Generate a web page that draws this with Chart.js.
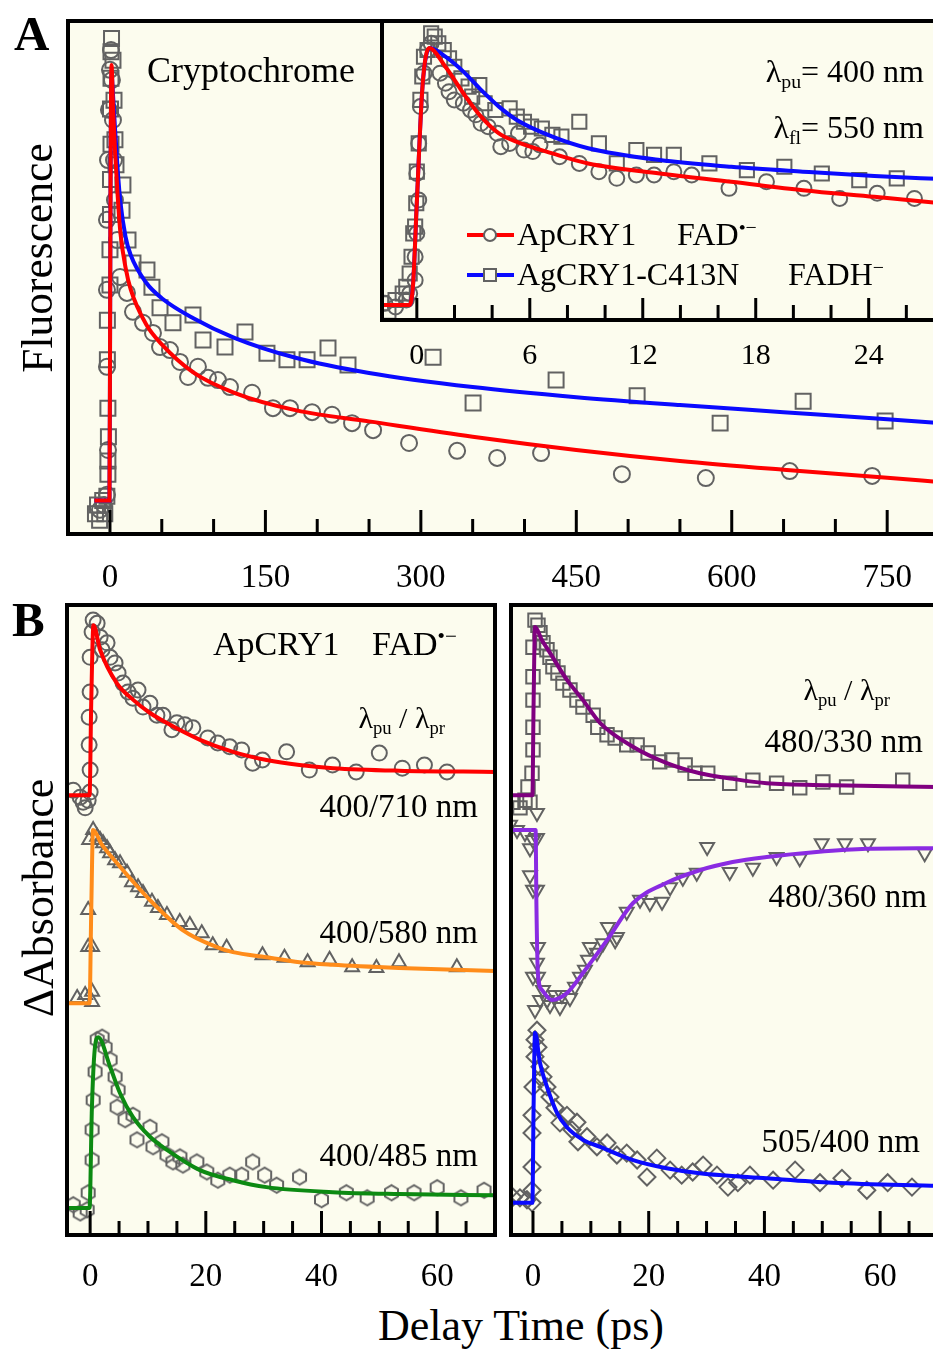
<!DOCTYPE html>
<html><head><meta charset="utf-8">
<script src="https://cdn.jsdelivr.net/npm/chart.js@4.4.0/dist/chart.umd.min.js"></script>
<style>
html,body{margin:0;padding:0;background:#fff;}
body{width:933px;height:1349px;overflow:hidden;position:relative;font-family:"Liberation Serif","Times New Roman",serif;color:#000;}
canvas{position:absolute;}
.t{position:absolute;white-space:nowrap;line-height:1;}
.t sub{font-size:0.62em;vertical-align:-0.32em;line-height:0;}
.t sup{font-size:0.62em;vertical-align:0.55em;line-height:0;}
.sw{position:absolute;}
</style></head><body>
<canvas id="cA" width="960" height="610" style="left:0;top:0"></canvas>
<canvas id="cI" width="590" height="380" style="left:370px;top:0"></canvas>
<canvas id="cBL" width="520" height="720" style="left:0;top:580px"></canvas>
<canvas id="cBR" width="460" height="720" style="left:490px;top:580px"></canvas>
<script>
// ---------------- DATA ----------------
// Panel A (main): delay time (ps) vs normalized fluorescence
const A_TICKS = [0,150,300,450,600,750];
const A_RED_FIT = [[-15,0.01],[-0.5,0.01],[0,0.3],[0.5,0.7],[1.5,1.0],[3,0.9],[5,0.8],[7.5,0.7],[10,0.62],[15,0.54],[20,0.49],[35,0.41],[50,0.365],[80,0.302],[120,0.255],[180,0.215],[250,0.19],[350,0.155],[450,0.125],[550,0.1],[650,0.08],[750,0.062],[800,0.052]];
const A_BLUE_FIT = [[-15,0.01],[-0.5,0.01],[0,0.3],[0.5,0.7],[1.5,0.98],[3,0.93],[5,0.85],[7.5,0.76],[10,0.69],[15,0.61],[20,0.568],[35,0.505],[50,0.47],[80,0.425],[120,0.38],[180,0.334],[250,0.3],[350,0.268],[450,0.245],[550,0.227],[650,0.211],[750,0.195],[800,0.186]];
const A_CIRCLES = [[-9.7,-0.011],[-5.8,0],[-2.9,0.023],[-1.9,0.125],[-2.9,0.314],[-2.9,0.489],[-2.9,0.648],[-1.9,0.784],[-1,0.898],[0,0.989],[1,1.034],[1.9,0.966],[2.9,0.875],[3.9,0.784],[4.8,0.693],[6.8,0.602],[9.7,0.518],[16.4,0.482],[22.2,0.439],[31.9,0.414],[41.5,0.391],[48.3,0.359],[57.9,0.352],[67.6,0.325],[75.3,0.291],[84.9,0.314],[94.6,0.289],[104.2,0.284],[115.8,0.268],[137.1,0.255],[157.3,0.22],[173.7,0.22],[195,0.211],[214.3,0.205],[233.6,0.186],[253.9,0.17],[288.6,0.141],[335,0.123],[373.6,0.107],[416,0.118],[494,0.07],[575,0.061],[656,0.077],[735.5,0.066]];
const A_SQUARES = [[-14,-0.02],[-12,0.0],[-10,-0.035],[-7,0.01],[-5,-0.02],[-3,0.02],[-2,0.07],[-2,0.1],[-1.5,0.155],[-2,0.22],[-2.5,0.33],[-2.5,0.42],[0,0.5],[0,0.58],[0.5,0.66],[0.5,0.74],[1,0.82],[0.5,0.9],[1,0.97],[1,1.03],[1.5,1.06],[2.9,1.011],[3.9,0.92],[4.8,0.83],[5.8,0.773],[12.5,0.727],[11.6,0.67],[17.4,0.602],[22.2,0.55],[35.7,0.534],[40.5,0.495],[48.3,0.448],[60.8,0.414],[80.1,0.432],[89.8,0.375],[111,0.359],[130.3,0.393],[151.5,0.345],[170.8,0.33],[190.2,0.33],[210.4,0.357],[229.7,0.318],[311.8,0.336],[350.4,0.232],[430.5,0.284],[508.7,0.248],[588.8,0.186],[668.9,0.236],[748,0.191]];

// Panel A (inset)
const I_TICKS = [0,6,12,18,24];
const I_RED_FIT = [[-1.85,0],[-0.4,0],[-0.2,0.08],[0,0.4],[0.3,0.85],[0.65,1.0],[1.52,0.927],[2.47,0.824],[3.41,0.733],[4.36,0.668],[5.31,0.635],[7.2,0.59],[9.1,0.551],[12.9,0.512],[16.7,0.48],[20.5,0.447],[24.3,0.421],[28,0.395]];
const I_BLUE_FIT = [[-1.85,0],[-0.4,0],[-0.2,0.08],[0,0.4],[0.3,0.85],[0.7,1.0],[1.52,0.966],[2.47,0.908],[3.41,0.837],[4.36,0.772],[5.31,0.72],[7.2,0.655],[9.1,0.61],[12.9,0.564],[16.7,0.538],[20.5,0.519],[24.3,0.502],[28,0.49]];
const I_CIRCLES = [[-1.7,0.007],[-1.13,-0.007],[-0.56,0.02],[-0.38,0.045],[-0.09,0.097],[-0.09,0.188],[0,0.279],[0.1,0.409],[0,0.512],[0.1,0.629],[0.19,0.772],[0.38,0.902],[0.57,0.992],[0.76,1.018],[1.24,0.902],[1.52,0.863],[1.71,0.83],[1.99,0.798],[2.47,0.785],[2.85,0.759],[3.13,0.74],[3.41,0.707],[3.79,0.694],[4.27,0.668],[4.46,0.616],[4.93,0.629],[5.4,0.668],[5.69,0.603],[6.16,0.597],[6.54,0.623],[7.58,0.577],[8.63,0.551],[9.67,0.519],[10.62,0.493],[11.66,0.506],[12.6,0.506],[13.65,0.519],[14.6,0.506],[16.58,0.454],[18.57,0.48],[20.56,0.454],[22.46,0.415],[24.45,0.435],[26.43,0.415]];
const I_SQUARES = [[-1.89,0.007],[-1.51,-0.026],[-1.13,0.02],[-0.75,0.045],[-0.56,0.071],[-0.38,0.123],[-0.28,0.188],[-0.19,0.279],[-0.09,0.305],[-0.03,0.396],[0,0.519],[0.1,0.629],[0.19,0.798],[0.29,0.889],[0.38,0.966],[0.57,0.992],[0.76,1.057],[0.95,1.044],[1.14,1.018],[1.43,0.992],[1.71,0.96],[1.99,0.927],[2.37,0.882],[2.75,0.85],[3.32,0.856],[2.94,0.811],[3.6,0.785],[4.17,0.759],[4.93,0.765],[5.31,0.733],[5.69,0.713],[6.07,0.694],[6.64,0.687],[7.2,0.662],[7.68,0.655],[8.63,0.713],[9.67,0.629],[10.62,0.551],[11.66,0.603],[12.6,0.584],[13.65,0.584],[15.54,0.551],[17.53,0.525],[19.52,0.538],[21.51,0.512],[23.5,0.486],[25.49,0.493]];

// Panel B (left): ApCRY1 FAD•−, ΔA traces (offset vertically)
const B_TICKS = [0,20,40,60];
const BL_RED_FIT = [[-4,69.8],[-0.1,69.8],[0.2,85],[0.57,96.8],[1.72,92.9],[4.6,87.6],[7.5,84.9],[10.3,82.9],[13.2,81.3],[19,78.6],[24.7,76.7],[30.5,75.4],[36.2,74.6],[42,74.1],[53.4,73.7],[70,73.5]];
const BL_CIRCLES = [[-2.93,70.6],[-1.72,69.5],[-0.86,67.8],[-1.21,68.7],[0,70.3],[-0.34,69.0],[0,73.8],[-0.17,77.8],[-0.17,82.2],[0,86.2],[0,91.7],[0.34,95.7],[0.52,97.6],[1.21,97.1],[1.72,94.9],[2.07,92.9],[2.93,94.0],[3.45,91.7],[4.31,90.8],[4.83,89.2],[5.69,87.6],[6.55,86.2],[7.41,85.2],[8.28,86.5],[9.14,83.8],[10.34,84.4],[11.55,82.5],[12.59,82.5],[14.14,80.2],[15,81.3],[16.38,81.0],[17.76,80.5],[20.34,78.9],[22.07,78.1],[24.14,77.5],[26.2,77.0],[28.1,74.9],[29.8,75.4],[33.97,76.7],[37.9,73.8],[41.9,74.6],[46,73.5],[50,76.5],[53.97,74.1],[57.8,74.6],[61.7,73.5]];
const BL_ORANGE_FIT = [[-4,36.8],[-0.1,36.8],[0.2,52],[0.5,64.3],[2,62.0],[4.66,59.0],[10.3,53.2],[16,48.4],[21.9,45.7],[24.7,44.9],[30.5,44.1],[36.2,43.3],[41.9,42.9],[53.4,42.4],[70,41.9]];
const BL_TRIANGLES = [[0.52,64.3],[1.21,63.2],[1.72,62.7],[2.24,62.2],[2.93,61.4],[3.45,60.6],[4.31,59.5],[5.17,59.0],[6.38,57.5],[7.24,56.0],[8.28,55.2],[9.14,54.3],[10.69,52.9],[11.72,51.9],[13.28,50.8],[15.5,49.7],[17.24,49.2],[19.3,47.9],[-0.34,51.6],[-0.34,45.7],[-0.17,62.7],[-2.24,37.6],[-0.86,38.1],[0.34,38.6],[0.34,37.0],[0.34,45.7],[21.2,46.0],[23.6,45.6],[29.8,44.4],[33.6,44.0],[37.6,43.3],[41.4,43.7],[45.3,42.5],[49.5,42.4],[53.4,43.3],[63.4,42.5]];
const BL_GREEN_FIT = [[-4,4.3],[-0.1,4.3],[0.3,20],[0.8,29.5],[1.4,31.4],[3.45,26.7],[5.17,22.5],[7.41,18.7],[10.34,15.6],[13.28,13.5],[18.97,10.3],[24.66,8.7],[30.5,7.6],[41.9,6.8],[53.4,6.5],[70,6.3]];
const BL_HEXAGONS = [[-2.93,4.8],[-1.72,3.5],[-0.52,4.0],[-0.34,6.7],[0.34,11.9],[0.34,16.7],[0.52,21.4],[0.86,25.9],[1.21,31.0],[2.07,31.4],[2.59,29.8],[3.45,27.8],[4.31,25.1],[4.83,23.0],[4.66,20.3],[6.03,18.3],[7.41,19.0],[8.1,15.1],[10.34,17.1],[10.86,14.0],[12.41,14.8],[13.28,12.7],[14.31,11.6],[15.52,12.4],[16.03,11.1],[18.45,11.6],[20.17,10.0],[22.07,8.7],[24.14,9.5],[26.2,9.5],[28.1,11.6],[30.17,9.5],[32.24,7.9],[36.2,9.2],[40,5.6],[44.3,6.7],[47.9,5.9],[52.1,6.7],[56,6.7],[60,7.5],[64.1,5.9],[68.1,7.1]];

// Panel B (right)
const BR_PURPLE_FIT = [[-3.8,69.8],[-0.1,69.8],[0.1,84],[0.35,96.5],[1.5,94.5],[2.94,92.4],[5.87,88.1],[8.64,84.9],[11.57,81.3],[17.27,77.5],[23.14,74.9],[28.84,73.3],[34.54,72.4],[40.4,71.7],[51.8,71.4],[70,71.1]];
const BR_SQUARES = [[-3.45,68.7],[-2.25,67.8],[-1.38,69.0],[-0.52,68.7],[-0.86,71.1],[-0.17,73.3],[0,77.0],[0,80.6],[0,84.9],[0,88.6],[0,93.3],[0.35,97.6],[0.86,96.8],[1.21,95.6],[1.73,94.0],[2.42,92.9],[2.94,91.7],[3.45,90.2],[4.32,89.2],[5.18,87.6],[6.39,86.5],[7.6,84.9],[8.64,83.8],[10.4,82.5],[11.2,80.6],[12.8,79.4],[14.2,78.9],[16.2,77.8],[18,77.8],[19.9,76.5],[21.9,75.1],[24,75.4],[26.3,74.6],[28,73.3],[30.2,73.3],[34,71.7],[38,72.2],[42.1,71.7],[46.1,71.0],[50.1,71.9],[54.2,71.1],[63.9,72.2]];
const BR_VIOLET_FIT = [[-3.8,64.3],[0.45,64.3],[0.6,52],[0.85,41.5],[1.55,38.9],[3.28,37.3],[5.87,38.4],[8.64,41.6],[12.8,46.8],[17.3,52.7],[23.1,55.9],[28.8,57.9],[34.5,59.2],[40.4,60],[49,60.8],[57.7,61.3],[70,61.4]];
const BR_DOWN_TRIANGLES = [[-3.97,65.1],[-2.76,64.3],[-1.38,63.8],[-0.52,61.4],[0,62.7],[0.69,63.0],[0.69,67.0],[-0.52,57.1],[0,54.8],[0.69,54.8],[0.86,45.7],[0.69,43.2],[0.86,41.0],[1.21,37.3],[1.73,38.9],[2.42,37.3],[2.94,36.5],[3.8,38.1],[4.66,36.2],[5,38.1],[6.39,37.6],[7.25,39.4],[8.12,41.0],[8.98,42.1],[9.5,43.7],[11.05,44.8],[12.1,46.3],[14.2,46.8],[9.84,45.7],[12.95,48.9],[14.5,47.3],[16.2,51.3],[18.5,53.2],[20.2,52.7],[22.3,52.9],[23.7,55.2],[25.9,56.7],[28.3,57.5],[30.1,61.6],[34,57.6],[38,58.3],[42.1,60.0],[46.1,59.8],[49.9,62.2],[53.9,62.2],[57.9,62.2],[67.7,60.6],[0,41.0],[0.35,35.7]];
const BR_BLUE_FIT = [[-3.8,5.1],[-0.1,5.1],[0.1,20],[0.35,32.1],[1.21,27.3],[2.42,23.5],[4.15,19.4],[5.87,17.1],[8.64,15.1],[11.6,14.0],[17.3,11.9],[23.1,10.6],[28.8,9.8],[40.4,9.0],[51.8,8.3],[70,7.8]];
const BR_DIAMONDS = [[-3.45,6.0],[-2.25,5.9],[-1.04,5.6],[-0.17,5.1],[-0.17,7.1],[-0.17,10.8],[-0.17,16.2],[-0.17,19.0],[0,23.5],[0.35,28.3],[0.35,31.0],[0.69,32.5],[0.86,29.8],[1.21,26.7],[1.73,25.1],[2.42,23.5],[2.94,21.9],[3.8,20.2],[4.66,17.8],[5.87,19.0],[6.74,16.7],[7.6,17.9],[7.77,14.8],[9.33,15.6],[11.05,14.0],[12.8,14.6],[14.5,12.7],[16.2,13.0],[18,11.9],[19.7,9.2],[21.4,12.2],[23.7,10.3],[25.7,9.5],[27.6,10.0],[29.4,11.1],[31.8,9.5],[33.7,7.6],[35.4,8.3],[37.5,9.5],[41.5,8.7],[45.3,10.3],[49.6,8.3],[53.4,9.0],[57.7,7.1],[61.3,8.3],[65.5,7.6]];

// ---------------- STYLE ----------------
const CREAM = '#fcfcee';
const GRAY = '#626262';
const FONT = 'Liberation Serif';

function pts(arr){ return arr.map(([x,y]) => ({x, y})); }
function fit(label, arr, color){
  return {label, data: pts(arr), showLine: true, pointRadius: 0, borderColor: color, borderWidth: 4,
          cubicInterpolationMode: 'monotone', fill: false, order: 1};
}
function marks(label, arr, style, r, rot){
  return {label, data: pts(arr), showLine: false, pointStyle: style, pointRadius: r, pointRotation: rot || 0,
          borderColor: GRAY, backgroundColor: 'rgba(0,0,0,0)', pointBorderWidth: 2, borderWidth: 2, order: 2};
}
function hexImg(r){
  const s = Math.ceil(2*r + 4), c = document.createElement('canvas');
  c.width = s; c.height = s;
  const g = c.getContext('2d');
  g.strokeStyle = GRAY; g.lineWidth = 2; g.beginPath();
  for (let i = 0; i < 6; i++) {
    const a = Math.PI/2 + i*Math.PI/3, x = s/2 + r*Math.cos(a), y = s/2 + r*Math.sin(a);
    if (i) g.lineTo(x, y); else g.moveTo(x, y);
  }
  g.closePath(); g.stroke();
  return c;
}

const frameTicks = {
  id: 'frameTicks',
  beforeDatasetsDraw(chart){
    const a = chart.chartArea, c = chart.ctx;
    c.save(); c.fillStyle = CREAM; c.fillRect(a.left, a.top, a.right - a.left, a.bottom - a.top); c.restore();
  },
  afterDatasetsDraw(chart, args, o){
    const a = chart.chartArea, c = chart.ctx, xs = chart.scales.x;
    c.save(); c.strokeStyle = '#000'; c.lineWidth = 3;
    for (let v = o.first; v <= xs.max; v += o.minor) {
      const px = xs.getPixelForValue(v);
      if (px < a.left || px > a.right) continue;
      const q = v / o.major, major = Math.abs(q - Math.round(q)) < 1e-6;
      const L = major ? o.majorLen : o.minorLen;
      c.beginPath(); c.moveTo(px, a.bottom); c.lineTo(px, a.bottom - L); c.stroke();
    }
    c.lineWidth = 4; c.strokeRect(a.left, a.top, a.right - a.left, a.bottom - a.top);
    c.restore();
  }
};

function makeChart(id, datasets, o){
  return new Chart(document.getElementById(id), {
    type: 'scatter',
    data: {datasets},
    options: {
      responsive: false, animation: false, devicePixelRatio: 1, events: [],
      layout: {padding: o.pad},
      plugins: {legend: {display: false}, tooltip: {enabled: false},
        frameTicks: {first: o.first, minor: o.minor, major: o.major, majorLen: o.majorLen, minorLen: o.minorLen}},
      scales: {
        x: {type: 'linear', min: o.xmin, max: o.xmax,
          afterBuildTicks: s => { s.ticks = o.ticks.map(v => ({value: v})); },
          afterFit: s => { s.height = o.axisH; },
          grid: {display: false, drawTicks: false}, border: {display: false},
          ticks: {font: {family: FONT, size: o.fs}, color: '#000', padding: o.tickPad, maxRotation: 0, autoSkip: false,
                  callback: v => String(v)}},
        y: {type: 'linear', display: false, min: o.ymin, max: o.ymax}
      }
    },
    plugins: [frameTicks]
  });
}

// Panel A main
makeChart('cA', [
  fit('ApCRY1 FAD•− fit', A_RED_FIT, '#ff0000'),
  fit('AgCRY1-C413N FADH− fit', A_BLUE_FIT, '#0a0aff'),
  marks('ApCRY1 FAD•−', A_CIRCLES, 'circle', 8),
  marks('AgCRY1-C413N FADH−', A_SQUARES, 'rect', 10.6)
], {pad: {left: 68, top: 21, right: 21, bottom: 0}, axisH: 76, xmin: -40.5, xmax: 800, ymin: -0.066, ymax: 1.1,
    ticks: A_TICKS, fs: 33, tickPad: 25, first: 0, minor: 50, major: 150, majorLen: 24, minorLen: 15});

// Panel A inset
makeChart('cI', [
  fit('ApCRY1 FAD•− fit', I_RED_FIT, '#ff0000'),
  fit('AgCRY1-C413N FADH− fit', I_BLUE_FIT, '#0a0aff'),
  marks('ApCRY1 FAD•−', I_CIRCLES, 'circle', 7.5),
  marks('AgCRY1-C413N FADH−', I_SQUARES, 'rect', 10)
], {pad: {left: 8, top: 21, right: 16, bottom: 0}, axisH: 60, xmin: -1.85, xmax: 28, ymin: -0.058, ymax: 1.105,
    ticks: I_TICKS, fs: 30, tickPad: 18, first: 0, minor: 2, major: 6, majorLen: 22, minorLen: 15});

// Panel B left
makeChart('cBL', [
  fit('400/710 nm fit', BL_RED_FIT, '#ff0000'),
  fit('400/580 nm fit', BL_ORANGE_FIT, '#ff8c1a'),
  fit('400/485 nm fit', BL_GREEN_FIT, '#0c8a12'),
  marks('400/710 nm', BL_CIRCLES, 'circle', 7.5),
  marks('400/580 nm', BL_TRIANGLES, 'triangle', 8),
  marks('400/485 nm', BL_HEXAGONS, hexImg(7.5), 7.5)
], {pad: {left: 67, top: 25, right: 25, bottom: 0}, axisH: 65, xmin: -4, xmax: 70, ymin: 0, ymax: 100,
    ticks: B_TICKS, fs: 33, tickPad: 23, first: 0, minor: 5, major: 20, majorLen: 24, minorLen: 14});

// Panel B right
makeChart('cBR', [
  fit('480/330 nm fit', BR_PURPLE_FIT, '#800080'),
  fit('480/360 nm fit', BR_VIOLET_FIT, '#8a2be2'),
  fit('505/400 nm fit', BR_BLUE_FIT, '#0a0aff'),
  marks('480/330 nm', BR_SQUARES, 'rect', 9.5),
  marks('480/360 nm', BR_DOWN_TRIANGLES, 'triangle', 8, 180),
  marks('505/400 nm', BR_DIAMONDS, 'rectRot', 8.5)
], {pad: {left: 21, top: 25, right: 12, bottom: 0}, axisH: 65, xmin: -3.8, xmax: 70, ymin: 0, ymax: 100,
    ticks: B_TICKS, fs: 33, tickPad: 23, first: 0, minor: 5, major: 20, majorLen: 24, minorLen: 14});

// ---------------- TEXT ----------------
function T(html, x, base, fs, opt){
  opt = opt || {};
  const d = document.createElement('div');
  d.className = 't'; d.innerHTML = html;
  d.style.fontSize = fs + 'px';
  if (opt.bold) d.style.fontWeight = 'bold';
  const top = base - 0.8375*fs;
  d.style.top = top + 'px';
  if (opt.align === 'right') d.style.right = (933 - x) + 'px';
  else if (opt.align === 'center') { d.style.left = x + 'px'; d.style.transform = 'translateX(-50%)'; }
  else d.style.left = x + 'px';
  document.body.appendChild(d);
}
function R(html, cx, cy, fs){
  const d = document.createElement('div');
  d.className = 't'; d.innerHTML = html;
  d.style.fontSize = fs + 'px';
  d.style.left = cx + 'px'; d.style.top = cy + 'px';
  d.style.transform = 'translate(-50%,-50%) rotate(-90deg)';
  document.body.appendChild(d);
}
function S(css){ const d = document.createElement('div'); d.className = 'sw'; d.style.cssText = css; document.body.appendChild(d); }

T('A', 14, 50, 49, {bold: true});
T('Cryptochrome', 147, 82, 36);
T('λ<sub>pu</sub>= 400 nm', 924, 82, 32, {align: 'right'});
T('λ<sub>fl</sub>= 550 nm', 924, 138, 32, {align: 'right'});
// inset legend
S('left:467px;top:233px;width:47px;height:4px;background:#ff0000;');
S('left:483px;top:228px;width:14px;height:14px;box-sizing:border-box;border:2px solid '+GRAY+';border-radius:50%;background:'+CREAM+';');
S('left:467px;top:273px;width:47px;height:4px;background:#0a0aff;');
S('left:483px;top:268px;width:14px;height:14px;box-sizing:border-box;border:2px solid '+GRAY+';background:'+CREAM+';');
T('ApCRY1', 517, 245, 32);
T('FAD<sup>•−</sup>', 677, 245, 32);
T('AgCRY1-C413N', 517, 285, 32);
T('FADH<sup>−</sup>', 788, 285, 32);

T('B', 12, 636, 49, {bold: true});
T('ApCRY1', 213, 655, 34);
T('FAD<sup>•−</sup>', 372, 655, 34);
T('λ<sub>pu</sub> / λ<sub>pr</sub>', 445, 728, 30, {align: 'right'});
T('400/710 nm', 478, 818, 33, {align: 'right'});
T('400/580 nm', 478, 944, 33, {align: 'right'});
T('400/485 nm', 478, 1167, 33, {align: 'right'});
T('λ<sub>pu</sub> / λ<sub>pr</sub>', 890, 700, 30, {align: 'right'});
T('480/330 nm', 923, 753, 33, {align: 'right'});
T('480/360 nm', 927, 908, 33, {align: 'right'});
T('505/400 nm', 920, 1153, 33, {align: 'right'});

R('Fluorescence', 38, 258, 43.5);
R('ΔAbsorbance', 39, 898, 44);
T('Delay Time (ps)', 521, 1341, 44, {align: 'center'});
</script>
</body></html>
